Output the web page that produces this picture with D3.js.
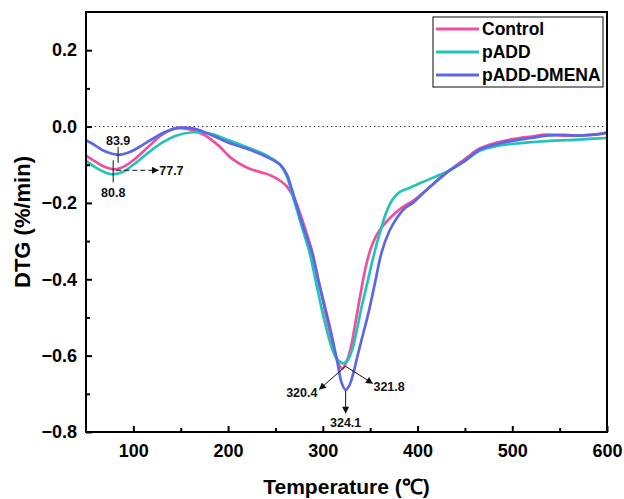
<!DOCTYPE html>
<html>
<head>
<meta charset="utf-8">
<script src="https://cdn.jsdelivr.net/npm/d3@7"></script>
<style>
  html, body { margin: 0; padding: 0; background: #fff; }
  svg { display: block; font-family: Arial, "Liberation Sans", sans-serif; }
</style>
</head>
<body>
<svg id="chart" width="624" height="499"></svg>
<script>
// DTG curves (temperature in C, DTG in %/min)
const controlT = [50, 60, 70, 80.8, 90, 100, 115, 130, 145, 160, 175, 190, 202, 212, 222, 235, 245, 255, 262, 267, 272, 277, 283, 289, 296, 303, 309, 314, 317.5, 320.4, 324, 329, 334, 340, 346, 352, 359, 367, 375, 385, 395, 410, 431, 450, 466, 484, 500, 520, 536, 558, 585, 600];
const controlV = [-0.076, -0.092, -0.106, -0.112, -0.105, -0.088, -0.055, -0.022, -0.004, -0.008, -0.022, -0.05, -0.08, -0.097, -0.11, -0.12, -0.128, -0.142, -0.157, -0.175, -0.2, -0.235, -0.28, -0.33, -0.41, -0.49, -0.555, -0.603, -0.626, -0.634, -0.622, -0.585, -0.52, -0.435, -0.36, -0.31, -0.275, -0.25, -0.23, -0.21, -0.195, -0.165, -0.12, -0.085, -0.057, -0.042, -0.033, -0.026, -0.021, -0.024, -0.022, -0.015];

const paddT = [50, 60, 70, 77.7, 88, 100, 115, 130, 145, 163, 180, 200, 220, 241, 255, 262, 268, 274, 280, 286, 293, 300, 306, 311, 316, 321.8, 326, 331, 336, 341, 346, 353, 360, 367, 374, 381, 390, 403, 420, 431, 450, 466, 485, 501, 536, 570, 600];
const paddV = [-0.09, -0.107, -0.12, -0.125, -0.12, -0.1, -0.07, -0.043, -0.024, -0.015, -0.018, -0.035, -0.054, -0.076, -0.1, -0.13, -0.18, -0.23, -0.28, -0.33, -0.41, -0.49, -0.55, -0.59, -0.612, -0.62, -0.613, -0.585, -0.532, -0.472, -0.42, -0.345, -0.28, -0.225, -0.19, -0.172, -0.162, -0.148, -0.13, -0.118, -0.09, -0.063, -0.05, -0.045, -0.038, -0.034, -0.03];

const dmenaT = [50, 60, 70, 83.9, 95, 110, 125, 140, 152, 165, 184, 200, 220, 241, 255, 262, 268, 274, 281, 288, 295, 301, 306, 311, 316, 320, 324.1, 328, 332, 337, 342, 348, 355, 362, 370, 378, 386, 395, 410, 431, 450, 466, 485, 501, 520, 536, 555, 571, 585, 600];
const dmenaV = [-0.036, -0.05, -0.065, -0.074, -0.068, -0.048, -0.025, -0.008, -0.003, -0.006, -0.024, -0.042, -0.058, -0.08, -0.1, -0.125, -0.17, -0.22, -0.275, -0.325, -0.4, -0.46, -0.51, -0.565, -0.625, -0.672, -0.69, -0.678, -0.648, -0.597, -0.548, -0.49, -0.41, -0.33, -0.275, -0.24, -0.215, -0.2, -0.165, -0.12, -0.09, -0.06, -0.045, -0.037, -0.03, -0.024, -0.022, -0.024, -0.021, -0.017];

const seriesNames = ["Control", "pADD", "pADD-DMENA"];
const seriesColors = ["#ef4f9f", "#22c4b6", "#5b67e6"];

const xTicks = [100, 200, 300, 400, 500, 600];
const yTicks = [0.2, 0.0, -0.2, -0.4, -0.6, -0.8];

// peak labels: [temperature, dtg]
const lowPeaks = { control: [80.8, -0.112], padd: [77.7, -0.125], dmena: [83.9, -0.074] };
const mainPeaks = { control: [320.4, -0.634], padd: [321.8, -0.62], dmena: [324.1, -0.69] };

const svg = d3.select("#chart");
const margin = { left: 86, right: 17, top: 12, bottom: 67 };
const width = 624 - margin.left - margin.right;
const height = 499 - margin.top - margin.bottom;

const x = d3.scaleLinear().domain([50, 600]).range([0, width]);
const y = d3.scaleLinear().domain([-0.8, 0.3]).range([height, 0]);

const defs = svg.append("defs");
defs.append("marker")
    .attr("id", "arrow")
    .attr("viewBox", "0 0 10 10")
    .attr("refX", 9).attr("refY", 5)
    .attr("markerWidth", 10).attr("markerHeight", 7)
    .attr("markerUnits", "userSpaceOnUse")
    .attr("orient", "auto")
    .append("path")
    .attr("d", "M0,0 L10,5 L0,10 Z")
    .attr("fill", "#111");
defs.append("clipPath").attr("id", "clip")
    .append("rect").attr("width", width).attr("height", height);

const g = svg.append("g").attr("transform", `translate(${margin.left},${margin.top})`);

// zero line
g.append("line")
    .attr("x1", 0).attr("x2", width)
    .attr("y1", y(0)).attr("y2", y(0))
    .attr("stroke", "#222").attr("stroke-width", 1)
    .attr("stroke-dasharray", "1.3,3");

const line = d3.line()
    .x(d => x(d[0]))
    .y(d => y(d[1]))
    .curve(d3.curveCatmullRom.alpha(0.5));

const series = [
    d3.zip(controlT, controlV),
    d3.zip(paddT, paddV),
    d3.zip(dmenaT, dmenaV)
];

g.append("g").attr("clip-path", "url(#clip)")
    .selectAll("path")
    .data(series)
    .enter()
    .append("path")
    .attr("d", line)
    .attr("fill", "none")
    .attr("stroke", (d, i) => seriesColors[i])
    .attr("stroke-width", 2.7)
    .attr("stroke-linejoin", "round");

// axes (ticks inside)
const xAxis = d3.axisBottom(x).tickValues(xTicks).tickSize(-6).tickPadding(12).tickFormat(d3.format("d"));
const yAxis = d3.axisLeft(y).tickValues(yTicks).tickSize(-6).tickPadding(9).tickFormat(d3.format(".1f"));

const gx = g.append("g").attr("transform", `translate(0,${height})`).call(xAxis);
gx.append("g").call(d3.axisBottom(x).tickValues(d3.range(150, 600, 100)).tickSize(-4).tickFormat(""));
const gy = g.append("g").call(yAxis);
gy.append("g").call(d3.axisLeft(y).tickValues([0.1, -0.1, -0.3, -0.5, -0.7]).tickSize(-4).tickFormat(""));

[gx, gy].forEach(a => {
    a.selectAll(".domain").remove();
    a.selectAll("line").attr("stroke", "#000").attr("stroke-width", 2);
    a.selectAll("text").attr("fill", "#000").attr("font-size", 18).attr("font-weight", "bold")
        .attr("font-family", "Arial, 'Liberation Sans', sans-serif");
});

// frame
g.append("rect")
    .attr("width", width).attr("height", height)
    .attr("fill", "none").attr("stroke", "#000").attr("stroke-width", 2);

// axis titles
svg.append("text")
    .attr("x", margin.left + width / 2).attr("y", 494)
    .attr("text-anchor", "middle")
    .attr("font-size", 21).attr("font-weight", "bold")
    .text("Temperature (℃)");
svg.append("text")
    .attr("transform", `translate(30,${margin.top + height / 2}) rotate(-90)`)
    .attr("text-anchor", "middle")
    .attr("font-size", 22).attr("font-weight", "bold")
    .text("DTG (%/min)");

// legend
const legend = svg.append("g").attr("transform", "translate(433,17)");
legend.append("rect")
    .attr("width", 170).attr("height", 70)
    .attr("fill", "#fff").attr("stroke", "#333").attr("stroke-width", 1.2);
const items = legend.selectAll(".item").data(seriesNames).enter()
    .append("g").attr("transform", (d, i) => `translate(0,${12 + i * 23})`);
items.append("line")
    .attr("x1", 3).attr("x2", 46)
    .attr("stroke", (d, i) => seriesColors[i]).attr("stroke-width", 2.8);
items.append("text")
    .attr("x", 49).attr("dy", "0.35em")
    .attr("font-size", 17.5).attr("font-weight", "bold")
    .text(d => d);

// peak annotations
const ann = g.append("g").attr("font-size", 12.5).attr("font-weight", "bold").attr("fill", "#111");
const stroke = s => s.attr("stroke", "#111").attr("stroke-width", 1);

// 83.9 (pADD-DMENA)
let px = x(lowPeaks.dmena[0]), py = y(lowPeaks.dmena[1]);
stroke(ann.append("line").attr("x1", px).attr("x2", px).attr("y1", py - 8).attr("y2", py + 8));
ann.append("text").attr("x", px).attr("y", py - 10).attr("text-anchor", "middle").text(lowPeaks.dmena[0].toFixed(1));

// 80.8 (Control)
px = x(lowPeaks.control[0]) - 2; py = y(lowPeaks.control[1]);
stroke(ann.append("line").attr("x1", px).attr("x2", px).attr("y1", py - 9).attr("y2", py + 13));
ann.append("text").attr("x", px).attr("y", py + 28).attr("text-anchor", "middle").text(lowPeaks.control[0].toFixed(1));

// 77.7 (pADD)
px = x(lowPeaks.padd[0]); py = y(lowPeaks.padd[1]);
stroke(ann.append("line").attr("x1", px + 4).attr("x2", px + 46).attr("y1", py - 4).attr("y2", py - 4))
    .attr("stroke-dasharray", "5,3").attr("marker-end", "url(#arrow)");
ann.append("text").attr("x", px + 47).attr("y", py - 4).attr("dy", "0.35em").text(lowPeaks.padd[0].toFixed(1));

// main peaks
const ox = x(mainPeaks.padd[0]) + 2, oy = y(mainPeaks.padd[1]) + 3;
stroke(ann.append("line").attr("x1", ox).attr("y1", oy).attr("x2", ox - 26).attr("y2", oy + 23)).attr("marker-end", "url(#arrow)");
ann.append("text").attr("x", ox - 28).attr("y", oy + 26).attr("dy", "0.35em").attr("text-anchor", "end").text(mainPeaks.control[0].toFixed(1));
stroke(ann.append("line").attr("x1", ox).attr("y1", oy).attr("x2", ox + 27).attr("y2", oy + 17)).attr("marker-end", "url(#arrow)");
ann.append("text").attr("x", ox + 28).attr("y", oy + 20).attr("dy", "0.35em").text(mainPeaks.padd[0].toFixed(1));

px = x(mainPeaks.dmena[0]); py = y(mainPeaks.dmena[1]);
stroke(ann.append("line").attr("x1", px).attr("x2", px).attr("y1", py + 1).attr("y2", py + 23)).attr("marker-end", "url(#arrow)");
ann.append("text").attr("x", px).attr("y", py + 33).attr("dy", "0.35em").attr("text-anchor", "middle").text(mainPeaks.dmena[0].toFixed(1));
</script>
</body>
</html>
